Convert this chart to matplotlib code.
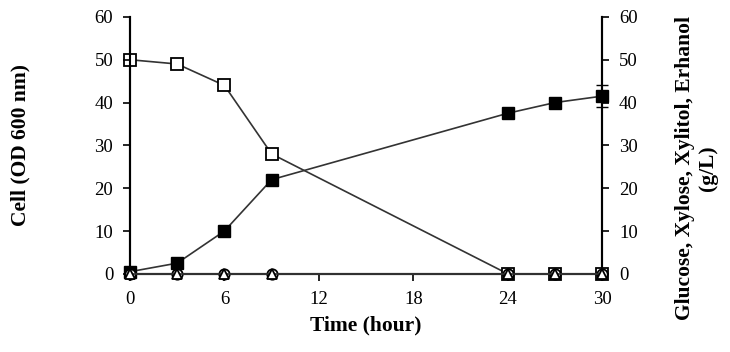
import numpy as np
import matplotlib
matplotlib.use("Agg")
import matplotlib.pyplot as plt

plt.rcParams['font.family'] = ['Liberation Serif', 'DejaVu Serif']

time = [0, 3, 6, 9, 24, 27, 30]
cell = [0.5, 2.5, 10, 22, 37.5, 40, 41.5]
cell_err = [0, 0, 0, 0, 0, 0, 2.5]
glucose = [50, 49, 44, 28, 0, 0, 0]
xylitol = [0, 0, 0, 0, 0, 0, 0]
ethanol = [0, 0, 0, 0, 0, 0, 0]

fig = plt.figure(figsize=(7.3, 3.52), dpi=100)
ax = fig.add_axes([0.178, 0.222, 0.647, 0.73])
ax2 = ax.twinx()

lc = '#333333'
ax2.plot(time, glucose, color=lc, lw=1.2, marker='s', ms=9, mfc='white', mec='black', mew=1.3, zorder=3)
ax.errorbar(time, cell, yerr=cell_err, color=lc, lw=1.2, marker='s', ms=9, mfc='black', mec='black',
            ecolor='black', elinewidth=1, capsize=4, zorder=3)
ax.plot(time, xylitol, color=lc, lw=1.2, marker='o', ms=7.5, mfc='white', mec='black', mew=1.3, zorder=4)
ax.plot(time, ethanol, color=lc, lw=1.2, marker='^', ms=6.5, mfc='white', mec='black', mew=1.3, zorder=5)

for a in (ax, ax2):
    a.set_ylim(0, 60)
    a.set_yticks(np.arange(0, 61, 10))
    a.spines['top'].set_visible(False)
    a.tick_params(axis='y', direction='out', length=5, width=1.2, labelsize=13.5, pad=7)
    a.tick_params(axis='x', direction='out', length=5, width=1.2, labelsize=13.5, pad=7)
    for s in a.spines.values():
        s.set_linewidth(1.5)
ax.set_xlim(0, 30)
ax.set_xticks([0, 6, 12, 18, 24, 30])
ax.set_xlabel('Time (hour)', fontsize=15.5, fontweight='bold', labelpad=6)
ax.set_ylabel('Cell (OD 600 nm)', fontsize=15.5, fontweight='bold', labelpad=46)
ax2.set_ylabel('Glucose, Xylose, Xylitol, Erhanol\n(g/L)', fontsize=15.5, fontweight='bold')
ax2.yaxis.set_label_coords(1.154, 0.412)
ax.set_zorder(ax2.get_zorder() + 1)
ax.patch.set_visible(False)
for ln in ax.lines + ax2.lines:
    ln.set_clip_on(False)

fig.savefig('out.png', dpi=100)
